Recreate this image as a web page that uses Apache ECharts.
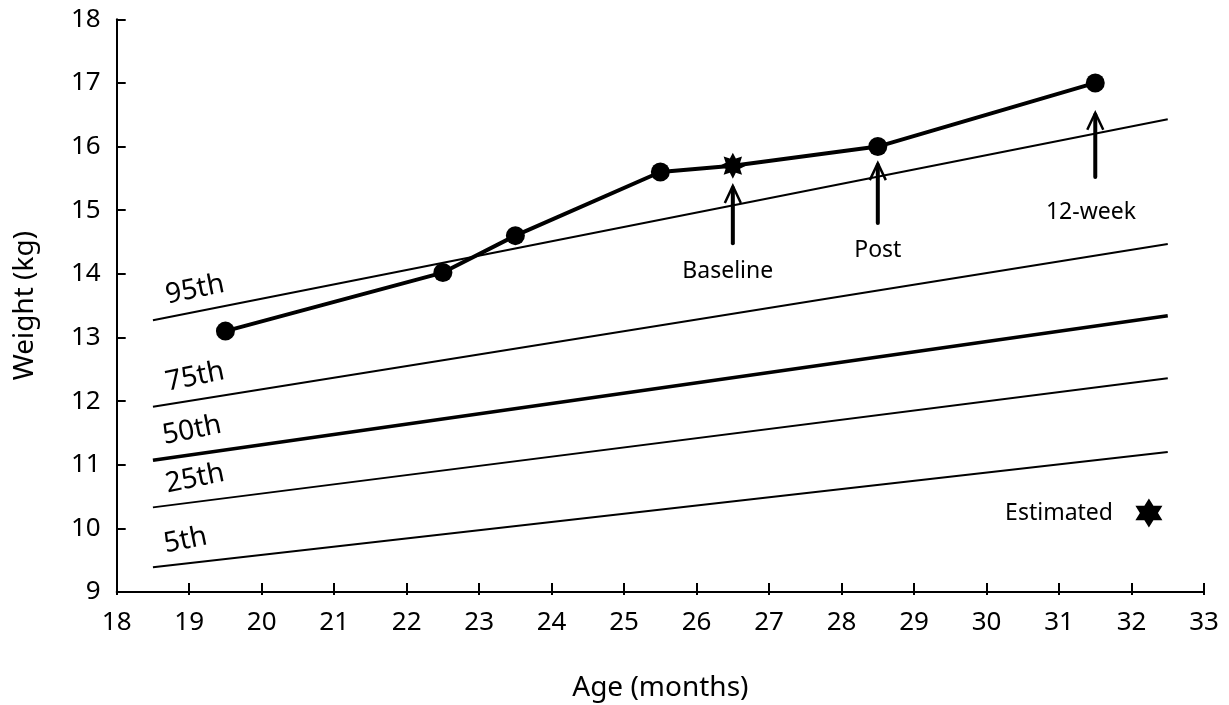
<!DOCTYPE html>
<html>
<head>
<meta charset="utf-8">
<script src="https://cdn.jsdelivr.net/npm/echarts@6/dist/echarts.min.js"></script>
<style>
html,body{margin:0;padding:0;background:#fff;}
#chart{width:1229px;height:705px;}
</style>
</head>
<body>
<div id="chart"></div>
<script>
// ---- Data ----
const childAges = [19.5, 22.5, 23.5, 25.5, 26.5, 28.5, 31.5];
const childWeights = [13.1, 14.02, 14.6, 15.6, 15.7, 16.0, 17.0];
const baselineIndex = 4;

const percentileNames = ['95th', '75th', '50th', '25th', '5th'];
const percentileAges = [18.5, 32.5];
const p95 = [13.27, 16.43];
const p75 = [11.91, 14.47];
const p50 = [11.07, 13.34];
const p25 = [10.33, 12.36];
const p5 = [9.39, 11.2];
const percentileLabelPos = [[19.08, 13.75], [19.08, 12.38], [19.04, 11.54], [19.08, 10.78], [18.95, 9.81]];

// arrows: [age, fromWeight, toWeight]
const arrows = [[26.5, 14.48, 15.38], [28.5, 14.8, 15.74], [31.5, 15.52, 16.53]];
// annotations: [age, weight, text]
const annotations = [[26.43, 14.03, 'Baseline'], [28.5, 14.36, 'Post'], [31.44, 14.96, '12-week'], [31.0, 10.24, 'Estimated']];
const estimatedPoint = [32.24, 10.24];

const xTicks = {min: 18, max: 33, interval: 1};
const yTicks = {min: 9, max: 18, interval: 1};

// ---- Symbols ----
function starPath(n, inner) {
  let d = '';
  for (let i = 0; i < 2 * n; i++) {
    const r = i % 2 === 0 ? 1 : inner;
    const a = -Math.PI / 2 + i * Math.PI / n;
    const x = (r * Math.cos(a)).toFixed(3);
    const y = (r * Math.sin(a)).toFixed(3);
    d += (i === 0 ? 'M' : 'L') + x + ' ' + y + ' ';
  }
  return 'path://' + d + 'Z';
}
const star8 = starPath(8, 0.6);
const star6 = starPath(6, 0.58);

const FONT = '"Noto Sans"';
const chart = echarts.init(document.getElementById('chart'), null, {renderer: 'canvas'});

const pctData = [p95, p75, p50, p25, p5];
const pctSeries = pctData.map((arr, i) => ({
  type: 'line',
  name: percentileNames[i],
  data: percentileAges.map((a, j) => [a, arr[j]]),
  symbol: 'none',
  silent: true,
  lineStyle: {color: '#000', width: percentileNames[i] === '50th' ? 3.5 : 2},
  z: 2
}));

const childData = childAges.map((a, i) => ({
  value: [a, childWeights[i]],
  symbol: i === baselineIndex ? star8 : 'circle',
  symbolSize: i === baselineIndex ? 26 : 19
}));

const option = {
  animation: false,
  backgroundColor: '#fff',
  grid: {left: 116.7, right: 25, top: 19.3, bottom: 113, containLabel: false, outerBoundsMode: 'none'},
  xAxis: [{
    type: 'value', min: xTicks.min, max: xTicks.max, interval: xTicks.interval,
    name: 'Age (months)', nameLocation: 'middle', nameGap: 82,
    nameTextStyle: {fontFamily: FONT, fontSize: 28, color: '#000'},
    axisLine: {show: true, onZero: false, lineStyle: {color: '#000', width: 2}},
    axisTick: {show: true, inside: true, length: 9, lineStyle: {color: '#000', width: 2}},
    axisLabel: {fontFamily: FONT, fontSize: 26, color: '#000', margin: 18},
    splitLine: {show: false}
  }, {
    type: 'value', min: xTicks.min, max: xTicks.max, interval: xTicks.interval, position: 'bottom',
    axisLine: {show: false},
    axisTick: {show: true, inside: false, length: 3, lineStyle: {color: '#000', width: 2}},
    axisLabel: {show: false},
    splitLine: {show: false}
  }],
  yAxis: {
    type: 'value', min: yTicks.min, max: yTicks.max, interval: yTicks.interval,
    name: 'Weight (kg)', nameLocation: 'middle', nameGap: 78,
    nameTextStyle: {fontFamily: FONT, fontSize: 28, color: '#000'},
    axisLine: {show: true, onZero: false, lineStyle: {color: '#000', width: 2}},
    axisTick: {show: true, inside: true, length: 9, lineStyle: {color: '#000', width: 2}},
    axisLabel: {fontFamily: FONT, fontSize: 26, color: '#000', margin: 16},
    splitLine: {show: false}
  },
  series: [
    ...pctSeries,
    {
      type: 'line', name: 'Child', data: childData,
      lineStyle: {color: '#000', width: 4},
      itemStyle: {color: '#000', opacity: 1},
      showAllSymbol: true, z: 5
    },
    {
      type: 'scatter', name: 'Estimated', data: [estimatedPoint],
      symbol: star6, symbolSize: [27, 29], itemStyle: {color: '#000', opacity: 1}, z: 5
    },
    {
      type: 'custom', name: 'arrows', data: arrows, silent: true, z: 4,
      renderItem: function (params, api) {
        const s = api.coord([api.value(0), api.value(1)]);
        const t = api.coord([api.value(0), api.value(2)]);
        return {
          type: 'group',
          children: [
            {type: 'line', shape: {x1: s[0], y1: s[1], x2: t[0], y2: t[1] + 2}, style: {stroke: '#000', lineWidth: 4, lineCap: 'round'}},
            {type: 'polyline', shape: {points: [[t[0] - 8, t[1] + 17], [t[0], t[1]], [t[0] + 8, t[1] + 17]]}, style: {stroke: '#000', lineWidth: 2.5, fill: null}}
          ]
        };
      }
    },
    {
      type: 'custom', name: 'annotations', data: annotations, silent: true, z: 6,
      renderItem: function (params, api) {
        const p = api.coord([api.value(0), api.value(1)]);
        return {
          type: 'text', x: p[0], y: p[1],
          style: {text: annotations[params.dataIndex][2], fontFamily: FONT, fontSize: 23, fill: '#000', align: 'center', verticalAlign: 'middle'}
        };
      }
    },
    {
      type: 'custom', name: 'percentileLabels', data: percentileLabelPos, silent: true, z: 6,
      renderItem: function (params, api) {
        const p = api.coord([api.value(0), api.value(1)]);
        return {
          type: 'text', x: p[0], y: p[1], rotation: 11.5 * Math.PI / 180,
          style: {text: percentileNames[params.dataIndex], fontFamily: FONT, fontSize: 28, fill: '#000', align: 'center', verticalAlign: 'middle'}
        };
      }
    }
  ]
};
chart.setOption(option);
</script>
</body>
</html>
